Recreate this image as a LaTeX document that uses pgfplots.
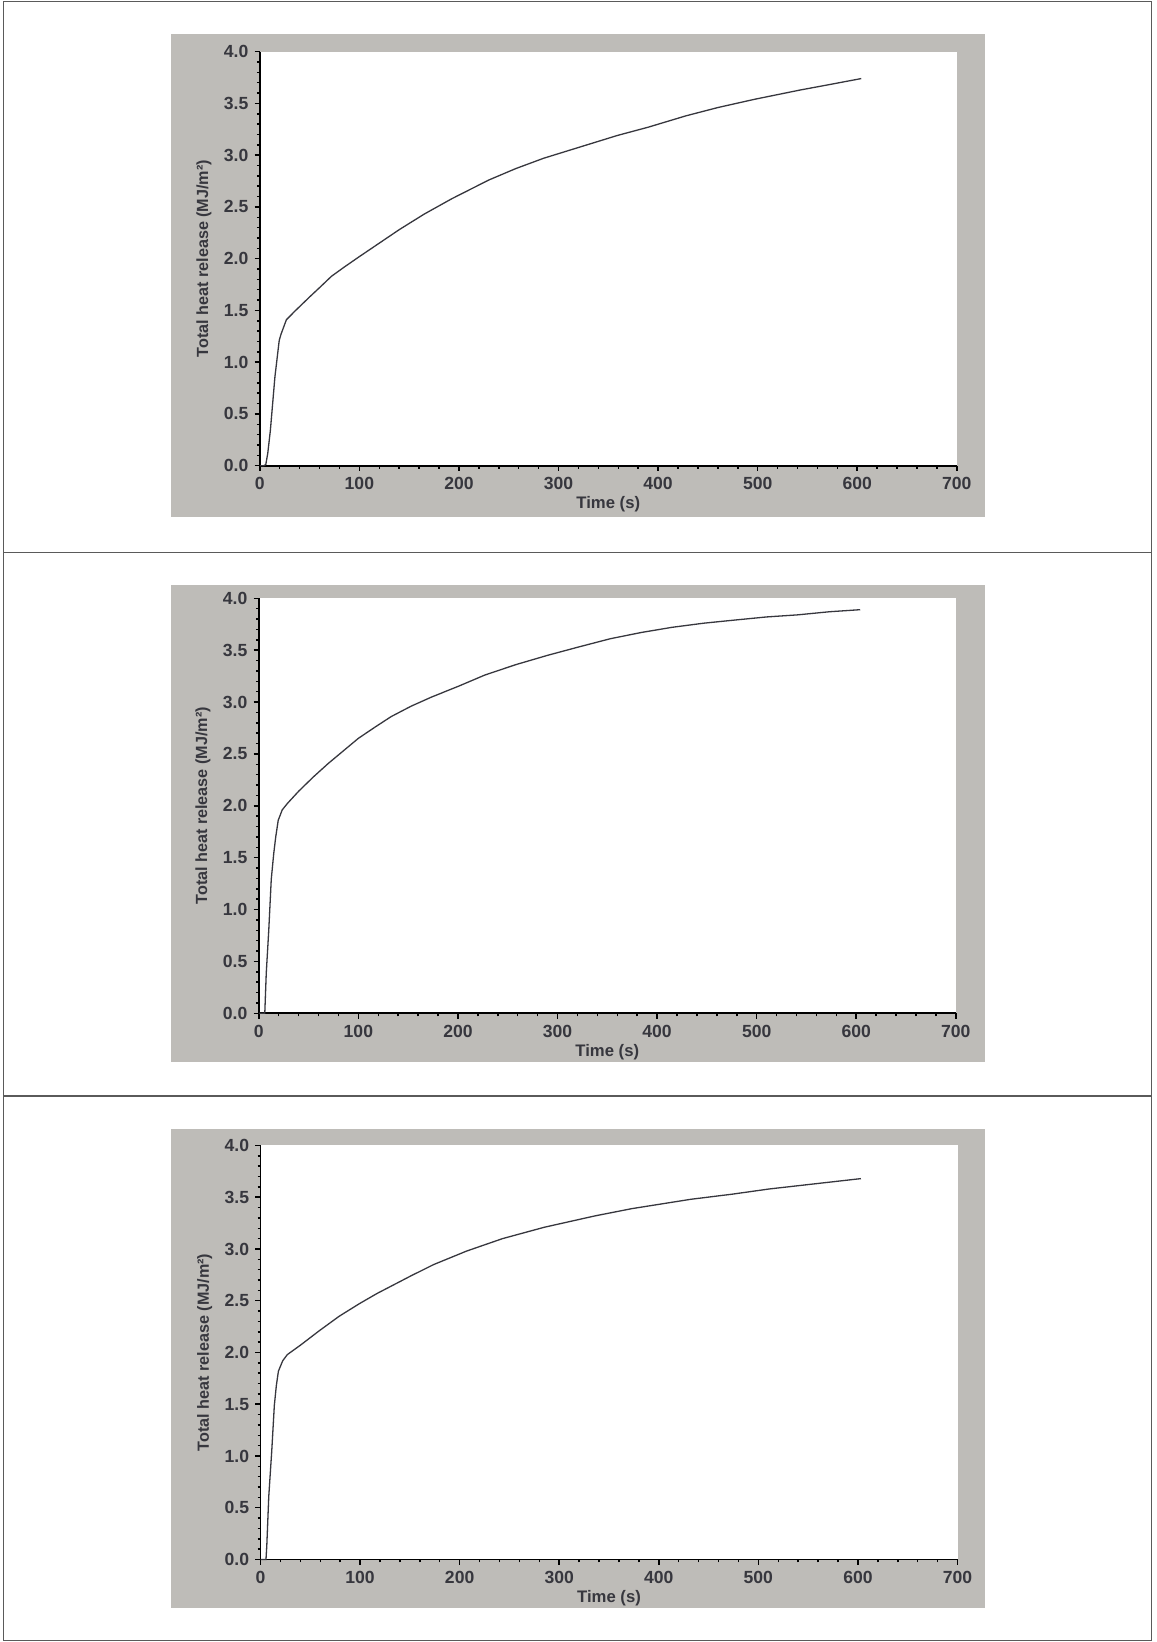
\documentclass[border=0pt]{standalone}
\usepackage{fontspec}
\setmainfont{Liberation Sans}
\usepackage{pgfplots}
\pgfplotsset{compat=1.18}
\definecolor{panelgray}{RGB}{190,188,184}
\definecolor{inkgray}{RGB}{55,55,62}
\definecolor{framegray}{RGB}{90,90,90}

\pgfplotsset{
  thr/.style={
    scale only axis,
    width=139.4mm, height=82.8mm,
    xmin=0, xmax=700, ymin=0, ymax=4,
    xtick={0,100,...,700}, ytick={0,0.5,...,4},
    minor x tick num=4, minor y tick num=4,
    axis x line=bottom, axis y line=left,
    axis line style={-, black, line width=0.35mm},
    tick align=outside,
    major tick length=1.05mm, minor tick length=0.6mm,
    tick style={black, line width=0.3mm},
    axis background/.style={fill=white},
    /pgf/number format/assume math mode=true,
    tick label style={font=\fontsize{10}{11}\selectfont\bfseries, text=inkgray},
    yticklabel style={/pgf/number format/fixed, /pgf/number format/fixed zerofill,
      /pgf/number format/precision=1},
    xlabel={Time (s)},
    ylabel={Total heat release (MJ/m²)},
    xlabel style={font=\fontsize{9.5}{10}\selectfont\bfseries, text=inkgray,
      at={(axis description cs:0.5,-0.094)}, anchor=center},
    ylabel style={font=\fontsize{9.2}{10}\selectfont\bfseries, text=inkgray,
      at={(axis description cs:-0.08,0.5)}, anchor=center, rotate=0},
    clip=false,
  },
  curve/.style={inkgray, line width=0.26mm, no marks},
}

\begin{document}
\begin{tikzpicture}[x=0.2mm, y=0.2mm]
\path (0,0) rectangle (1156,1642);
% outer frame and dividers
\draw[framegray, line width=0.3mm] (3.3,1.3) rectangle (1151.7,1640.5);
\draw[framegray, line width=0.3mm] (3.3,1089.3) -- (1151.7,1089.3);
\draw[framegray, line width=0.3mm] (3.3,546) -- (1151.7,546);
% gray panels
\fill[panelgray] (170.7,1125) rectangle (985,1608);
\fill[panelgray] (170.7,580) rectangle (985,1057);
\fill[panelgray] (170.7,34) rectangle (985,513);

% top panel
\begin{axis}[thr, at={(51.96mm,235.26mm)}, anchor=south west]
\addplot[curve] coordinates {
(0,0) (4,0) (6,0.01) (8,0.12) (10.6,0.34) (15.2,0.86) (19.5,1.21) (21.3,1.27)
(26.7,1.41) (36,1.50) (50,1.63) (60,1.72) (72,1.83) (85,1.92) (100,2.02)
(120,2.15) (140,2.28) (165,2.43) (193,2.58) (230,2.76) (257,2.87) (285,2.97)
(322,3.08) (359,3.19) (390,3.27) (428,3.38) (460,3.46) (497,3.54) (543,3.63)
(571,3.68) (604,3.74)
};
\end{axis}

% middle panel
\begin{axis}[thr, height=83mm, at={(51.76mm,125.74mm)}, anchor=south west]
\addplot[curve] coordinates {
(0,0) (6,0) (7.5,0.39) (10,0.8) (12.5,1.29) (15,1.54) (17,1.70) (19.5,1.86)
(23.5,1.96) (28.5,2.02) (40,2.14) (55,2.28) (70,2.41) (85,2.53) (100,2.65)
(117,2.76) (133,2.86) (153,2.96) (174,3.05) (200,3.15) (227,3.26) (258,3.36)
(290,3.45) (321,3.53) (353,3.61) (384,3.67) (415,3.72) (447,3.76) (478,3.79)
(510,3.82) (541,3.84) (573,3.87) (604,3.89)
};
\end{axis}

% bottom panel
\begin{axis}[thr, at={(52.1mm,16.5mm)}, anchor=south west]
\addplot[curve] coordinates {
(0,0) (5.5,0) (6.3,0.13) (8.3,0.61) (11.3,1.05) (13.9,1.49) (15.9,1.68) (18,1.82)
(22.3,1.92) (27,1.98) (40,2.07) (59,2.21) (79,2.35) (99,2.47) (117,2.57)
(151,2.74) (174,2.85) (207,2.98) (243,3.10) (285,3.21) (336,3.32) (373,3.39)
(432,3.48) (474,3.53) (511,3.58) (557,3.63) (603,3.68)
};
\end{axis}
\end{tikzpicture}
\end{document}
